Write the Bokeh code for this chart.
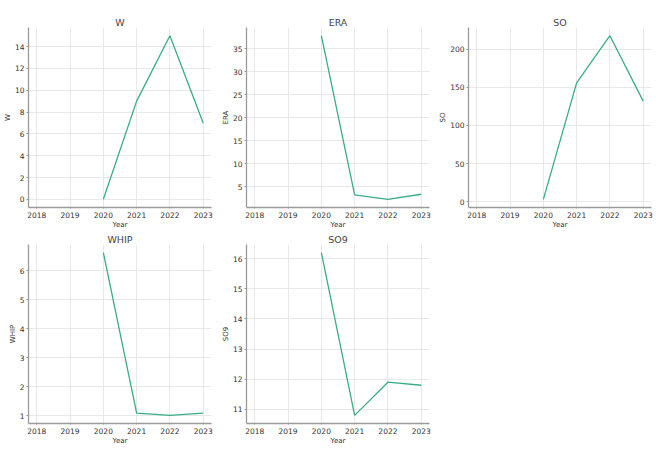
import math
from bokeh.plotting import figure
from bokeh.layouts import column, row
from bokeh.models import Range1d, SingleIntervalTicker
from bokeh.embed import file_html
from bokeh.resources import INLINE

years = [2018, 2019, 2020, 2021, 2022, 2023]
nan = float("nan")
W = [nan, nan, 0, 9, 15, 7]
ERA = [nan, nan, 37.8, 3.2, 2.25, 3.35]
SO = [nan, nan, 3, 156, 218, 132]
WHIP = [nan, nan, 6.62, 1.09, 1.01, 1.09]
SO9 = [nan, nan, 16.2, 10.8, 11.9, 11.8]

stats = [("W", W, 2), ("ERA", ERA, 5), ("SO", SO, 50), ("WHIP", WHIP, 1), ("SO9", SO9, 1)]

LINE = "#38ad86"
FONT = "DejaVu Sans"


def padded(vals, frac=0.05):
    v = [x for x in vals if not math.isnan(x)]
    lo, hi = min(v), max(v)
    pad = (hi - lo) * frac
    return lo - pad, hi + pad


def make(name, vals, interval, top, fh, right):
    ylo, yhi = padded(vals)
    xlo, xhi = padded(years)
    p = figure(frame_width=183, frame_height=fh, output_backend="svg", toolbar_location=None,
               x_range=Range1d(xlo, xhi), y_range=Range1d(ylo, yhi),
               min_border_left=28, min_border_right=right, min_border_top=top, min_border_bottom=0,
               title=name)
    p.line(years, vals, line_color=LINE, line_width=1.3)
    p.title.align = "center"
    p.title.text_font = FONT
    p.title.text_font_size = "9.5px"
    p.title.text_font_style = "normal"
    p.title.text_color = "#444444"
    p.title.standoff = 0
    p.outline_line_color = None
    p.background_fill_color = "white"
    p.border_fill_color = "white"
    p.xaxis.ticker = SingleIntervalTicker(interval=1)
    p.yaxis.ticker = SingleIntervalTicker(interval=interval)
    p.xaxis.axis_label = "Year"
    p.yaxis.axis_label = name
    for ax in (p.xaxis, p.yaxis):
        ax.axis_line_color = "#9a9a9a"
        ax.axis_line_width = 1.3
        ax.major_tick_line_color = "#9a9a9a"
        ax.major_tick_out = 2
        ax.major_tick_in = 0
        ax.minor_tick_line_color = None
        ax.major_label_text_font = FONT
        ax.major_label_text_font_size = "7.5px"
        ax.major_label_text_color = "#333333"
        ax.axis_label_text_font = FONT
        ax.axis_label_text_font_size = "7px"
        ax.axis_label_text_font_style = "normal"
        ax.axis_label_text_color = "#333333"
        ax.axis_label_standoff = 0
        ax.major_label_standoff = 0
    p.xaxis.major_tick_out = 1
    p.grid.grid_line_color = "#e8e8e8"
    p.grid.grid_line_width = 1
    return p


figs = []
for i, (name, vals, iv) in enumerate(stats):
    top, fh = (27, 180) if i < 3 else (10, 179)
    right = 4 if i == 2 else 7
    figs.append(make(name, vals, iv, top, fh, right))

layout = column(row(figs[0], figs[1], figs[2]), row(figs[3], figs[4]))
open("out.html", "w").write(file_html(layout, INLINE))
